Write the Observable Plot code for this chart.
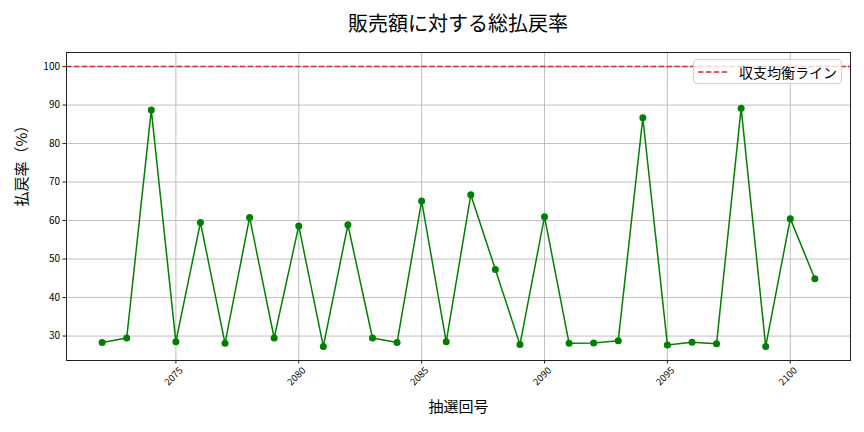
<!DOCTYPE html>
<html>
<head>
<meta charset="utf-8">
<script src="https://cdn.jsdelivr.net/npm/d3@7"></script>
<script src="https://cdn.jsdelivr.net/npm/@observablehq/plot@0.6"></script>
<style>
  html, body { margin: 0; padding: 0; background: #fff; }
  body { font-family: "Noto Sans CJK JP", "Noto Sans", sans-serif; }
  #wrap { position: relative; width: 864px; height: 432px; padding-top: 44px; box-sizing: border-box; }
  #title { position: absolute; left: 58px; width: 800px; top: 9px; line-height: 28px; text-align: center; font-size: 20px; color: #000; }
  #legend { position: absolute; left: 693px; top: 59px; width: 149px; height: 25px; box-sizing: border-box;
    border: 1px solid #d0d0d0; border-radius: 4px; background: rgba(255,255,255,0.8);
    display: flex; align-items: center; font-size: 14px; color: #000; }
  #legend svg { margin-left: 4px; margin-right: 11px; }
</style>
</head>
<body>
<div id="wrap">
  <div id="title"></div>
  <div id="chart"></div>
  <div id="legend"></div>
</div>
<script>
const titleText = "販売額に対する総払戻率";
const xLabel = "抽選回号";
const yLabel = "払戻率（%）";
const legendLabel = "収支均衡ライン";

const draws = [2072, 2073, 2074, 2075, 2076, 2077, 2078, 2079, 2080, 2081,
               2082, 2083, 2084, 2085, 2086, 2087, 2088, 2089, 2090, 2091,
               2092, 2093, 2094, 2095, 2096, 2097, 2098, 2099, 2100, 2101];
const payoutRates = [28.3, 29.5, 88.7, 28.5, 59.5, 28.1, 60.8, 29.5, 58.6, 27.3,
                     58.9, 29.5, 28.3, 65.1, 28.5, 66.7, 47.3, 27.8, 61.0, 28.1,
                     28.2, 28.8, 86.7, 27.7, 28.4, 28.0, 89.2, 27.3, 60.5, 44.9];
const breakEven = 100;
const xTicks = [2075, 2080, 2085, 2090, 2095, 2100];
const yTicks = [30, 40, 50, 60, 70, 80, 90, 100];

const data = draws.map((d, i) => ({draw: d, rate: payoutRates[i]}));
const font = "Noto Sans CJK JP";

document.getElementById("title").textContent = titleText;

const chart = Plot.plot({
  width: 864,
  height: 388,
  marginLeft: 66,
  marginRight: 14,
  marginTop: 8,
  marginBottom: 72,
  style: {fontFamily: font, background: "#fff", color: "#000"},
  x: {domain: [2070.55, 2102.45], label: null},
  y: {domain: [23.65, 103.65], label: null},
  marks: [
    Plot.gridX(xTicks, {stroke: "#b0b0b0", strokeOpacity: 1, strokeWidth: 0.8}),
    Plot.gridY(yTicks, {stroke: "#b0b0b0", strokeOpacity: 1, strokeWidth: 0.8}),
    Plot.ruleY([breakEven], {stroke: "#d62728", strokeWidth: 1.5, strokeDasharray: "5.5,2.4"}),
    Plot.line(data, {x: "draw", y: "rate", stroke: "#008000", strokeWidth: 1.5}),
    Plot.dot(data, {x: "draw", y: "rate", fill: "#008000", r: 3.5}),
    Plot.frame({stroke: "#222", strokeWidth: 1}),
    Plot.axisY(yTicks, {tickSize: 3.5, tickPadding: 3, fontSize: 10, label: null, stroke: "#222"}),
    Plot.axisX(xTicks, {tickSize: 3.5, tickFormat: () => "", label: null, stroke: "#222"}),
    Plot.text(xTicks, {x: d => d, frameAnchor: "bottom", dy: 18, rotate: -45, fontSize: 9.5, text: d => String(d), fill: "#000"}),
    Plot.text([xLabel], {frameAnchor: "bottom", dy: 51, fontSize: 15, fill: "#000"}),
    Plot.text([yLabel], {frameAnchor: "left", dx: -44, rotate: -90, fontSize: 15, fill: "#000"})
  ]
});
document.getElementById("chart").appendChild(chart);

const lg = document.getElementById("legend");
lg.innerHTML = '<svg width="30" height="6"><line x1="0" y1="3" x2="30" y2="3" stroke="#d62728" stroke-width="1.5" stroke-dasharray="5.5,2.4"/></svg>';
const sp = document.createElement("span");
sp.textContent = legendLabel;
lg.appendChild(sp);
</script>
</body>
</html>
